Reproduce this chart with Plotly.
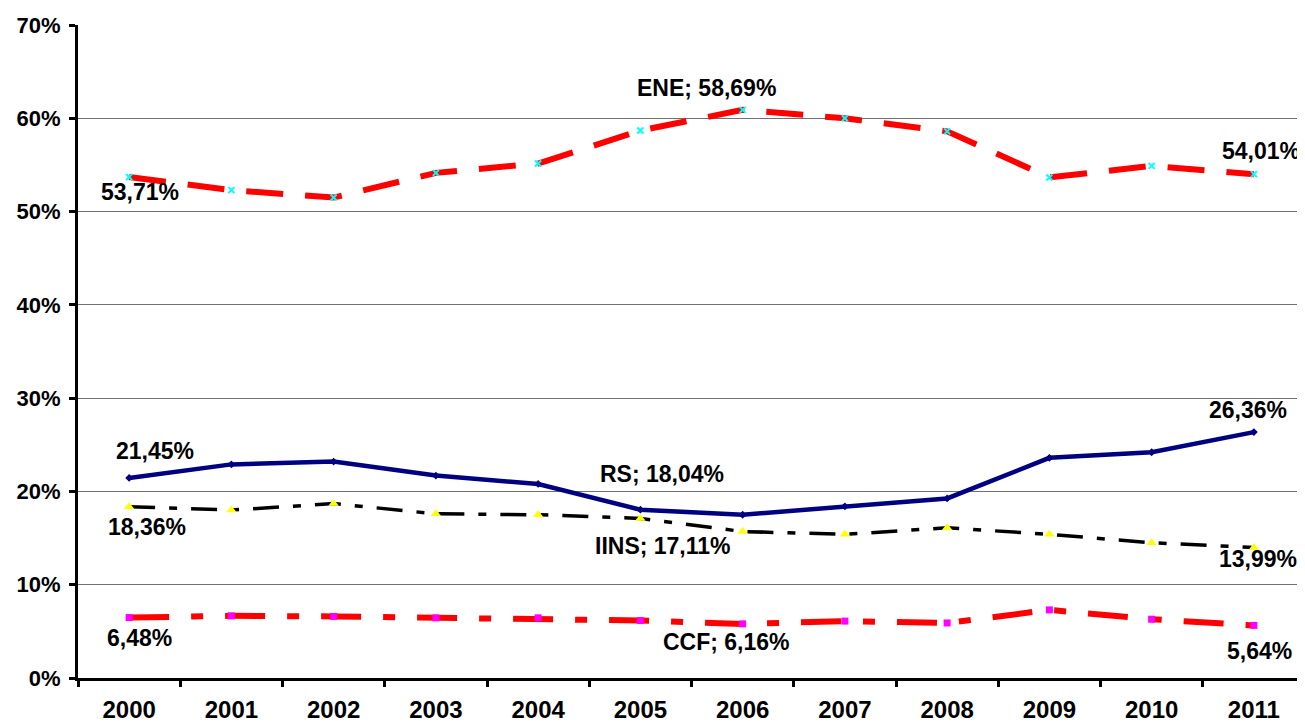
import plotly.graph_objects as go

years = ["2000", "2001", "2002", "2003", "2004", "2005", "2006", "2007", "2008", "2009", "2010", "2011"]
ene = [53.71, 52.3, 51.5, 54.15, 55.15, 58.69, 60.9, 60.0, 58.6, 53.66, 54.9, 54.01]
rs = [21.45, 22.9, 23.2, 21.7, 20.8, 18.04, 17.5, 18.4, 19.25, 23.6, 24.2, 26.36]
iins = [18.36, 18.0, 18.7, 17.6, 17.5, 17.11, 15.7, 15.4, 16.1, 15.4, 14.5, 13.99]
ccf = [6.48, 6.66, 6.6, 6.45, 6.45, 6.16, 5.8, 6.1, 5.9, 7.3, 6.3, 5.64]
y_ticks = [0, 10, 20, 30, 40, 50, 60, 70]

FONT = "Liberation Sans, Arial, sans-serif"

def pct(v):
    return v / 100.0

fig = go.Figure()

fig.add_trace(go.Scatter(
    x=years, y=[pct(v) for v in ene], name="ENE", mode="lines+markers",
    line=dict(color="#FF0000", width=6, dash="37px,22px"),
    marker=dict(symbol="x-thin", size=6, color="#00FFFF", line=dict(color="#00FFFF", width=2)),
))
fig.add_trace(go.Scatter(
    x=years, y=[pct(v) for v in rs], name="RS", mode="lines+markers",
    line=dict(color="#000080", width=4.5),
    marker=dict(symbol="diamond", size=6, color="#000080"),
))
fig.add_trace(go.Scatter(
    x=years, y=[pct(v) for v in iins], name="IINS", mode="lines+markers",
    line=dict(color="#000000", width=3.5, dash="26px,14px,8px,14px"),
    marker=dict(symbol="triangle-up", size=9, color="#FFFF00"),
))
fig.add_trace(go.Scatter(
    x=years, y=[pct(v) for v in ccf], name="CCF", mode="lines+markers",
    line=dict(color="#FF0000", width=6, dash="40px,22px,12px,22px"),
    marker=dict(symbol="square", size=7, color="#FF00FF"),
))

def fmt(v):
    return ("%.2f" % v).replace(".", ",") + "%"

# (series, index, prefix, xshift, yshift)
labels = [
    (ene, 0, "", 11, -15),
    (ene, 5, "ENE; ", 66, 43),
    (ene, 11, "", 7, 23),
    (rs, 0, "", 26, 27),
    (rs, 5, "RS; ", 22, 36),
    (rs, 11, "", -6, 22),
    (iins, 0, "", 18, -20),
    (iins, 5, "IINS; ", 23, -28),
    (iins, 11, "", 4, -12),
    (ccf, 0, "", 10, -20),
    (ccf, 5, "CCF; ", 86, -21),
    (ccf, 11, "", 6, -26),
]
annotations = []
for series, i, prefix, xs, ys in labels:
    annotations.append(dict(
        x=i, y=pct(series[i]), xref="x", yref="y",
        text="<b>" + prefix + fmt(series[i]) + "</b>", showarrow=False,
        xshift=xs, yshift=ys,
        font=dict(family=FONT, size=23, color="#000000"),
    ))

fig.update_layout(
    width=1297, height=715,
    margin=dict(l=70, r=0, t=17, b=43),
    paper_bgcolor="white", plot_bgcolor="white",
    showlegend=False,
    font=dict(family=FONT, color="#000000"),
    annotations=annotations,
)
fig.update_xaxes(
    type="category", range=[-0.5, 11.5],
    tickvals=years, ticktext=["<b>" + y + "</b>" for y in years],
    showline=True, linecolor="#000000", linewidth=3,
    ticks="outside", tickson="boundaries", ticklen=6, tickwidth=3, tickcolor="#000000",
    showgrid=False,
    tickfont=dict(family=FONT, size=24, color="#000000"),
    ticklabelstandoff=8,
)
fig.update_yaxes(
    range=[0, 0.7], tickvals=[pct(v) for v in y_ticks],
    ticktext=[f"<b>{v}%</b>" for v in y_ticks],
    showline=True, linecolor="#000000", linewidth=3,
    ticks="outside", ticklen=6, tickwidth=3, tickcolor="#000000",
    showgrid=True, gridcolor="#707070", gridwidth=1,
    zeroline=False,
    tickfont=dict(family=FONT, size=22, color="#000000"),
    ticklabelstandoff=4,
)

fig.write_html("out.html")
